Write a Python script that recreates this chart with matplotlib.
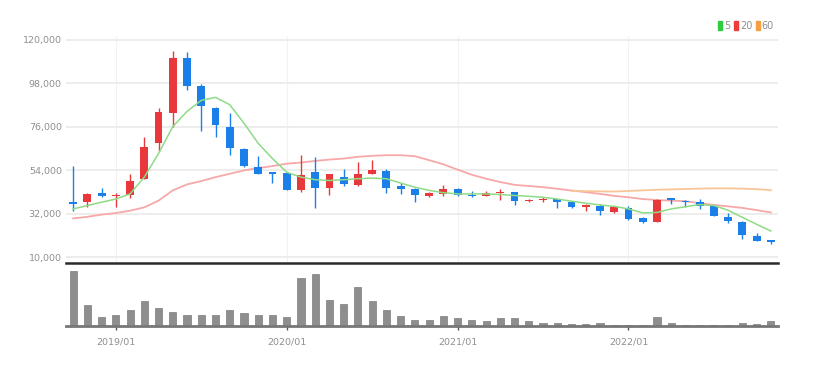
import matplotlib.pyplot as plt
import numpy as np
import pandas as pd
from matplotlib.patches import Patch

plt.rcParams['font.family'] = ['Liberation Sans Narrow', 'DejaVu Sans']

# monthly candles, 2018/10 .. 2022/11
months = pd.date_range('2018-10-01', periods=50, freq='MS').strftime('%Y/%m').tolist()

opens = [37800, 38100, 42300, 40800, 41700, 49700, 67900, 83200, 111000, 96800,
         85600, 76000, 65000, 55700, 53000, 52500, 43800, 53000, 45100, 50500,
         46600, 52300, 53600, 45900, 44600, 40800, 42000, 44600, 41700, 40800,
         42300, 42800, 38300, 38900, 39400, 37800, 35200, 35700, 33000, 34700,
         29800, 28000, 39800, 38600, 38100, 36100, 30100, 28000, 20700, 18500]
highs = [56000, 42600, 45100, 42300, 52200, 71000, 85500, 114400, 114000, 97900,
         86000, 83200, 65400, 61100, 53300, 52800, 61600, 60900, 52300, 54500,
         58200, 59000, 54500, 47500, 45000, 42800, 46300, 45000, 43600, 43600,
         44600, 43100, 39400, 40300, 39600, 38600, 36900, 36900, 35500, 36100,
         30500, 39200, 40100, 39000, 39400, 36300, 32100, 28300, 22100, 18700]
lows = [33100, 35300, 40300, 35600, 40000, 49400, 63800, 75700, 94500, 74000,
        71000, 61600, 55700, 52000, 47500, 44000, 43200, 34900, 41700, 46100,
        46000, 51900, 42400, 42100, 37800, 40600, 40800, 40900, 40600, 40700,
        39000, 36600, 38100, 37700, 34900, 34900, 33200, 31500, 32200, 28700,
        27100, 27800, 36900, 35200, 34400, 30600, 27500, 19000, 18000, 16500]
closes = [37000, 42000, 41000, 41400, 48500, 65900, 83400, 111000, 96500, 86300,
          76800, 65400, 56000, 52300, 52300, 44200, 51800, 45100, 52200, 46800,
          51900, 53900, 45100, 44600, 41700, 42300, 44600, 41300, 40700, 42300,
          42800, 38600, 38900, 39400, 37800, 35200, 36400, 33200, 35200, 29300,
          27900, 39000, 39100, 37900, 36100, 30600, 28400, 21200, 18200, 17800]

ma5 = [34400, 36100, 37800, 39400, 42000, 50500, 62500, 76100, 83800, 89400,
       90900, 87200, 77800, 67600, 59900, 53000, 50500, 49200, 48800, 49200,
       49700, 50000, 49700, 47500, 45400, 43800, 42600, 42000, 42000, 42000,
       41700, 41200, 40800, 40300, 39400, 38300, 37300, 36400, 35700, 34400,
       32400, 32600, 34400, 35500, 36600, 36100, 33700, 30100, 26600, 23200]
ma20 = [29600, 30400, 31500, 32300, 33500, 35200, 38600, 43800, 46800, 48500,
        50500, 52200, 53900, 55100, 56100, 57300, 57900, 58700, 59400, 59900,
        60800, 61300, 61600, 61600, 61100, 59100, 57000, 54300, 51700, 49700,
        48000, 46600, 46000, 45400, 44600, 43700, 42900, 42000, 41000, 40300,
        39400, 38900, 38600, 38300, 37300, 36400, 35700, 34900, 33800, 32600]
ma60 = [None] * 35 + [43600, 43400, 43300, 43200, 43500, 43800, 44100, 44300,
                      44500, 44700, 44800, 44800, 44700, 44400, 43900]

volume = [547, 213, 90, 107, 163, 247, 180, 140, 107, 107,
          113, 163, 130, 113, 107, 90, 480, 523, 260, 223,
          390, 247, 163, 97, 63, 63, 97, 80, 57, 47,
          80, 80, 47, 30, 30, 23, 23, 30, 13, 13,
          13, 90, 30, 13, 13, 13, 13, 30, 23, 47]

tick_labels = ['2019/01', '2020/01', '2021/01', '2022/01']

x = np.arange(len(months))
o = np.array(opens)
c = np.array(closes)
up = c >= o
col = np.where(up, '#e8383b', '#1a7fe8')

fig = plt.figure(figsize=(8.18, 3.66), dpi=100)
ax1 = fig.add_axes([66 / 818, 103 / 366, 712 / 818, 227 / 366])
ax2 = fig.add_axes([66 / 818, 40 / 366, 712 / 818, 60 / 366], sharex=ax1)

# price panel
ax1.vlines(x, lows, highs, color=col, linewidth=1, zorder=3)
body = np.maximum(np.abs(c - o), 500)
ax1.bar(x, body, bottom=np.minimum(o, c), width=0.55, color=col, zorder=3)
ax1.plot(x, ma5, color='#8edb86', linewidth=1.1, zorder=4)
ax1.plot(x, ma20, color='#f7a8a8', linewidth=1.3, zorder=2)
ax1.plot(x, np.array(ma60, dtype=float), color='#f9c596', linewidth=1.3, zorder=2)

ax1.set_xlim(-0.5, len(x) - 0.5)
ax1.set_ylim(7000, 122000)
ax1.set_yticks([10000, 32000, 54000, 76000, 98000, 120000])
ax1.set_yticklabels(['10,000', '32,000', '54,000', '76,000', '98,000', '120,000'])
ax1.tick_params(axis='y', length=0, pad=3, labelsize=6.8, labelcolor='#8f8f8f')
ax1.tick_params(axis='x', length=0, labelbottom=False)
tick_pos = [months.index(t) for t in tick_labels]
ax1.set_xticks(tick_pos)
ax1.grid(axis='y', color='#ececec', linewidth=1.3)
ax1.grid(axis='x', color='#f2f2f2', linewidth=0.8)
ax1.set_axisbelow(True)
for s in ['top', 'left', 'right']:
    ax1.spines[s].set_visible(False)
ax1.spines['bottom'].set_color('#2a2a2a')
ax1.spines['bottom'].set_linewidth(1.8)

ax1.legend(handles=[Patch(color='#2ecc40', label='5'),
                    Patch(color='#ee3b3b', label='20'),
                    Patch(color='#f5a040', label='60')],
           ncol=3, frameon=False, fontsize=7, labelcolor='#8f8f8f',
           handlelength=0.4, handleheight=0.9, handletextpad=0.2,
           columnspacing=0.4, borderaxespad=0,
           loc='upper right', bbox_to_anchor=(778 / 818, 349 / 366),
           bbox_transform=fig.transFigure)

# volume panel
ax2.bar(x, volume, width=0.5, color='#8e8e8e', edgecolor='#7c7c7c', linewidth=0.5, zorder=3)
ax2.set_ylim(0, 600)
ax2.set_yticks([])
ax2.set_xticks(tick_pos)
ax2.set_xticklabels(tick_labels)
ax2.tick_params(axis='x', length=3, width=1, color='#555555', pad=5,
                labelsize=6.8, labelcolor='#8f8f8f')
for s in ['top', 'left', 'right']:
    ax2.spines[s].set_visible(False)
ax2.spines['bottom'].set_color('#777777')
ax2.spines['bottom'].set_linewidth(2)
ax2.spines['bottom'].set_zorder(4)

fig.savefig('out.png', dpi=100)
